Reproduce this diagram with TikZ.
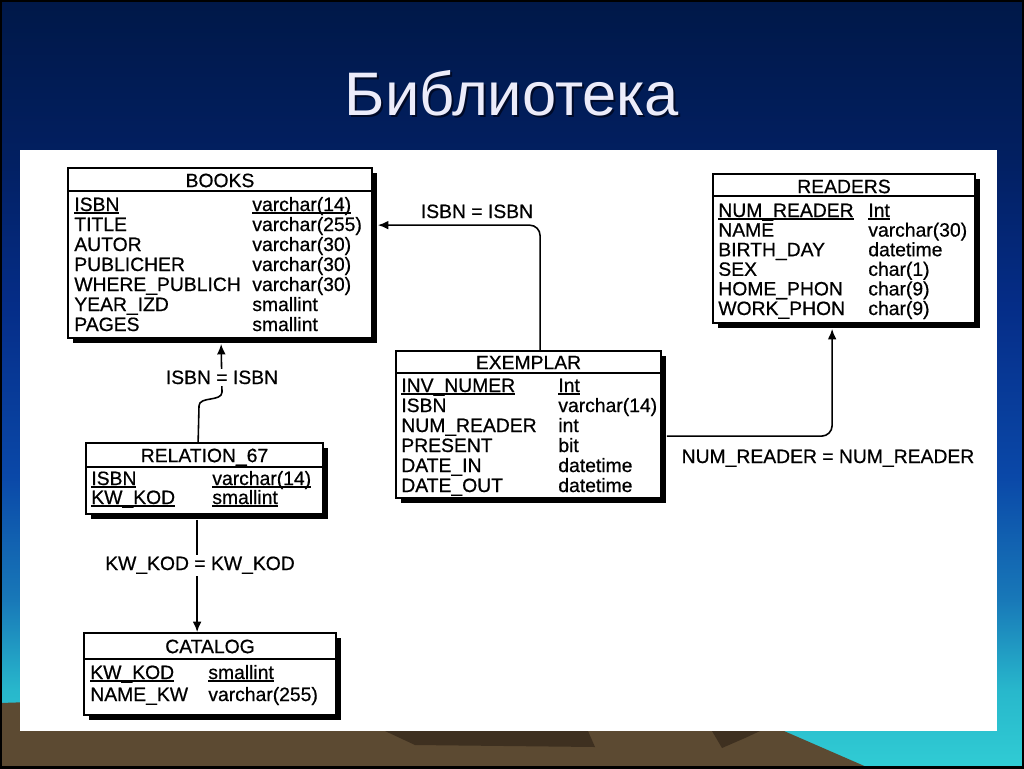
\documentclass[tikz,border=0pt]{standalone}
\usepackage{fontspec}
\setmainfont{Liberation Sans}
\newfontfamily\tblfont{Liberation Sans}[FakeBold=0.6]
\usetikzlibrary{arrows.meta,calc,fit,shadows}

\newcommand\keyul[1]{\setbox0\hbox{#1}\rlap{\rule[-1.5pt]{\wd0}{0.7pt}}\box0}

\definecolor{bgtop}{HTML}{001848}
\definecolor{bgdark}{HTML}{021F60}
\definecolor{bgroyal}{HTML}{052D88}
\definecolor{bgblue}{HTML}{0A48A8}
\definecolor{bgsky}{HTML}{1878B8}
\definecolor{bgcyan}{HTML}{28B8CC}
\definecolor{bgteal}{HTML}{30CCD4}
\definecolor{earth}{HTML}{5C4A32}
\definecolor{earthdark}{HTML}{3E3020}
\definecolor{titletext}{HTML}{ECECFA}
\definecolor{titleshadow}{HTML}{000A28}

\pgfdeclareverticalshading{slidebg}{100bp}{color(0bp)=(bgteal); color(25bp)=(bgteal);
  color(30bp)=(bgcyan); color(36bp)=(bgsky); color(44bp)=(bgblue);
  color(55bp)=(bgroyal); color(65bp)=(bgdark); color(75bp)=(bgtop); color(100bp)=(bgtop)}

\begin{document}
\begin{tikzpicture}[x=0.02cm, y=-0.02cm,
    title/.style={anchor=base, inner sep=0pt, font=\fontsize{35}{40}\selectfont},
    tbl/.style={draw, line width=1pt, fill=white, inner sep=0pt,
      drop shadow={shadow xshift=3pt, shadow yshift=-3pt, fill=black, opacity=1}},
    hdr/.style={anchor=base, inner sep=0pt, font=\tblfont\fontsize{11}{12}\selectfont},
    sep/.style={line width=1pt},
    fld/.style={anchor=base west, inner sep=0pt, font=\tblfont\fontsize{11}{12}\selectfont},
    lbl/.style={anchor=base, inner sep=1pt, fill=white, font=\tblfont\fontsize{11}{12}\selectfont},
    conn/.style={line width=0.9pt, -{Latex[length=6pt,width=5pt]}}]
  \useasboundingbox (0,0) rectangle (1024,768);

  % slide background
  \shade[shading=slidebg] (0,0) rectangle (1024,768);
  \fill[earth] (0,703) -- (400,690) -- (784,731) -- (869,768) -- (0,768) -- cycle;
  \fill[earthdark] (385,731) -- (415,745) -- (595,747) -- (588,731) -- cycle;
  \fill[earthdark] (712,731) -- (722,748) -- (745,738) -- (760,731) -- cycle;
  \draw[black, line width=2.5pt] (0,0) rectangle (1024,768);
  \fill[white] (20,150) rectangle (997,731);

  % title
  \node[title, text=titleshadow] (ttlsh) at (514,117) {Библиотека};
  \node[title, text=titletext] (ttl) at (512,115) {Библиотека};

  % BOOKS
  \node[tbl, fit={(68,168) (372,338)}] (books) {};
  \node[hdr] (books-h) at ($(books.north)+(0,20)$) {BOOKS};
  \draw[sep] ($(books.north west)+(0,24)$) -- ($(books.north east)+(0,24)$);
  \foreach \f/\t [count=\i from 0] in {\keyul{ISBN}/\keyul{varchar(14)},
      TITLE/varchar(255), AUTOR/varchar(30), PUBLICHER/varchar(30),
      WHERE\_PUBLICH/varchar(30), YEAR\_IZD/smallint, PAGES/smallint}
  {
    \node[fld] (books-f\i) at (74,211+20*\i) {\f};
    \node[fld] (books-t\i) at (252,211+20*\i) {\t};
  }

  % READERS
  \node[tbl, fit={(713,174) (975,323)}] (readers) {};
  \node[hdr] (readers-h) at ($(readers.north)+(0,20)$) {READERS};
  \draw[sep] ($(readers.north west)+(0,23)$) -- ($(readers.north east)+(0,23)$);
  \foreach \f/\t [count=\i from 0] in {\keyul{NUM\_READER}/\keyul{Int},
      NAME/varchar(30), BIRTH\_DAY/datetime, SEX/char(1),
      HOME\_PHON/char(9), WORK\_PHON/char(9)}
  {
    \node[fld] (readers-f\i) at (718,217+19.6*\i) {\f};
    \node[fld] (readers-t\i) at (868,217+19.6*\i) {\t};
  }

  % EXEMPLAR
  \node[tbl, fit={(396,351) (661,498)}] (exemplar) {};
  \node[hdr] (exemplar-h) at ($(exemplar.north)+(0,19)$) {EXEMPLAR};
  \draw[sep] ($(exemplar.north west)+(0,23)$) -- ($(exemplar.north east)+(0,23)$);
  \foreach \f/\t [count=\i from 0] in {\keyul{INV\_NUMER}/\keyul{Int},
      ISBN/varchar(14), NUM\_READER/int, PRESENT/bit,
      DATE\_IN/datetime, DATE\_OUT/datetime}
  {
    \node[fld] (exemplar-f\i) at (401,392+20*\i) {\f};
    \node[fld] (exemplar-t\i) at (558,392+20*\i) {\t};
  }

  % RELATION_67
  \node[tbl, fit={(86,443) (323,514)}] (relation) {};
  \node[hdr] (relation-h) at ($(relation.north)+(0,20)$) {RELATION\_67};
  \draw[sep] ($(relation.north west)+(0,25)$) -- ($(relation.north east)+(0,25)$);
  \foreach \f/\t [count=\i from 0] in {\keyul{ISBN}/\keyul{varchar(14)},
      \keyul{KW\_KOD}/\keyul{smallint}}
  {
    \node[fld] (relation-f\i) at (91,485+19*\i) {\f};
    \node[fld] (relation-t\i) at (212,485+19*\i) {\t};
  }

  % CATALOG
  \node[tbl, fit={(84,633) (336,715)}] (catalog) {};
  \node[hdr] (catalog-h) at ($(catalog.north)+(0,21)$) {CATALOG};
  \draw[sep] ($(catalog.north west)+(0,27)$) -- ($(catalog.north east)+(0,27)$);
  \foreach \f/\t [count=\i from 0] in {\keyul{KW\_KOD}/\keyul{smallint},
      NAME\_KW/varchar(255)}
  {
    \node[fld] (catalog-f\i) at (90,679+22*\i) {\f};
    \node[fld] (catalog-t\i) at (208,679+22*\i) {\t};
  }

  % relations
  \draw[conn, rounded corners=6pt] ($(exemplar.north west)+(145,0)$) |- ($(books.north east)+(5,58)$);
  \node[lbl] (isbn-a) at (477,218) {ISBN = ISBN};
  \draw[conn] ($(relation.north west)+(113,0)$) -- (199,406)
    .. controls (199,396) and (222,402) .. (222,392) -- ($(books.south west)+(154,5)$);
  \node[lbl] (isbn-b) at (222,384) {ISBN = ISBN};
  \draw[conn] ($(relation.south west)+(112,5)$) -- ($(catalog.north west)+(114,0)$);
  \node[lbl] (kwkod) at (200,570) {KW\_KOD = KW\_KOD};
  \draw[conn, rounded corners=6pt] ($(exemplar.north east)+(5,86)$) -| ($(readers.south west)+(120,5)$);
  \node[lbl] (numreader) at (828,463) {NUM\_READER = NUM\_READER};
\end{tikzpicture}
\end{document}
